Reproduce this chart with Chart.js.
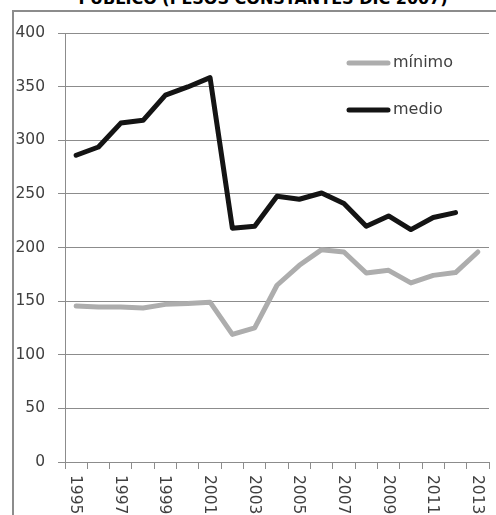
<!DOCTYPE html>
<html>
<head>
<meta charset="utf-8">
<script src="https://cdn.jsdelivr.net/npm/chart.js@4.4.1/dist/chart.umd.min.js"></script>
<style>
  html, body { margin: 0; padding: 0; background: #fff; overflow: hidden; }
  #wrap { position: relative; width: 496px; height: 515px; overflow: hidden; }
  .frame { position: absolute; background: #8c8c8c; }
  #title { position: absolute; left: 0; top: -11px; width: 526px; text-align: center;
           font: bold 16px/19px 'DejaVu Sans', sans-serif; color: #000; white-space: nowrap; }
  #c { position: absolute; left: 0; top: 0; }
</style>
</head>
<body>
<div id="wrap">
  <div id="title"></div>
  <div class="frame" style="left:12px; top:10px; width:2px; height:505px;"></div>
  <div class="frame" style="left:12px; top:10px; width:484px; height:2px;"></div>
  <canvas id="c" width="496" height="515"></canvas>
</div>
<script>
// data
const titleText = 'PÚBLICO (PESOS CONSTANTES DIC 2007)';
const years = ['1995', '1996', '1997', '1998', '1999', '2000', '2001', '2002', '2003', '2004',
               '2005', '2006', '2007', '2008', '2009', '2010', '2011', '2012', '2013'];
const minimo = [145.5, 144.5, 144.5, 143.6, 147, 147.7, 149, 119, 125, 164.8,
                183.4, 198, 195.8, 176.2, 178.7, 167, 174, 176.6, 195.8];
const medio = [286, 293.7, 316, 318.6, 342, 349.7, 358.4, 218, 219.8, 247.7,
               245, 250.8, 241, 219.8, 229.4, 216.7, 228, 232.5, null];
const yMin = 0, yMax = 400, yStep = 50;

const FONT = "'DejaVu Sans', sans-serif";
const GRID = '#8c8c8c';
const TEXT = '#404040';

document.getElementById('title').textContent = titleText;

// year labels written downwards (rotated clockwise), every second one
const yearLabels = {
  id: 'yearLabels',
  afterDraw(chart) {
    const x = chart.scales.x;
    const ctx = chart.ctx;
    ctx.save();
    ctx.font = '15.5px ' + FONT;
    ctx.fillStyle = TEXT;
    ctx.textAlign = 'left';
    ctx.textBaseline = 'middle';
    chart.data.labels.forEach((lab, i) => {
      if (i % 2) return;
      ctx.save();
      ctx.translate(x.getPixelForValue(i) - 1, x.top + 13);
      ctx.rotate(Math.PI / 2);
      ctx.fillText(lab, 0, 0);
      ctx.restore();
    });
    ctx.restore();
  }
};

// legend inside the plot, top right, stacked
const innerLegend = {
  id: 'innerLegend',
  afterDatasetsDraw(chart) {
    const a = chart.chartArea;
    const ctx = chart.ctx;
    ctx.save();
    chart.data.datasets.forEach((ds, i) => {
      const y = a.top + 30 + i * 47;
      const x0 = a.right - 140;
      ctx.strokeStyle = ds.borderColor;
      ctx.lineWidth = 5;
      ctx.lineCap = 'round';
      ctx.beginPath();
      ctx.moveTo(x0, y);
      ctx.lineTo(x0 + 39, y);
      ctx.stroke();
      ctx.font = '16px ' + FONT;
      ctx.fillStyle = TEXT;
      ctx.textAlign = 'left';
      ctx.textBaseline = 'middle';
      ctx.fillText(ds.label, x0 + 44, y);
    });
    ctx.restore();
  }
};

new Chart(document.getElementById('c'), {
  type: 'line',
  data: {
    labels: years,
    datasets: [
      { label: 'mínimo', data: minimo, borderColor: '#adadad', borderWidth: 5,
        pointRadius: 0, tension: 0, borderJoinStyle: 'round', borderCapStyle: 'round' },
      { label: 'medio', data: medio, borderColor: '#141414', borderWidth: 5,
        pointRadius: 0, tension: 0, borderJoinStyle: 'round', borderCapStyle: 'round' }
    ]
  },
  options: {
    responsive: false,
    animation: false,
    layout: { padding: { left: 0, right: 7, top: 33, bottom: 0 } },
    plugins: {
      legend: { display: false },
      tooltip: { enabled: false },
      title: { display: false }
    },
    scales: {
      x: {
        offset: true,
        grid: { offset: true, drawOnChartArea: false, color: GRID, tickLength: 7 },
        border: { color: GRID },
        ticks: { display: false },
        afterFit(s) { s.height = 53; }
      },
      y: {
        min: yMin,
        max: yMax,
        ticks: { stepSize: yStep, padding: 13, color: TEXT, font: { family: FONT, size: 15.5 } },
        grid: { color: GRID, tickLength: 7 },
        border: { color: GRID },
        afterFit(s) { s.width = 65; }
      }
    }
  },
  plugins: [yearLabels, innerLegend]
});
</script>
</body>
</html>
